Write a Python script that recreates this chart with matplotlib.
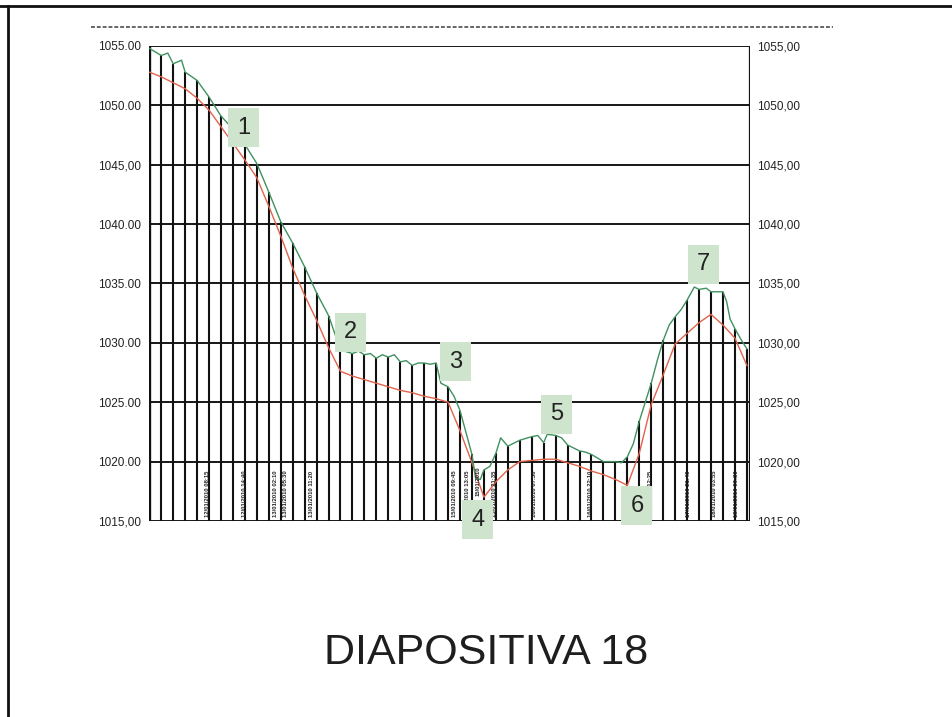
import matplotlib
matplotlib.use("Agg")
import matplotlib.pyplot as plt
from matplotlib.patches import Rectangle
from matplotlib.lines import Line2D

plt.rcParams['font.family'] = ['Liberation Sans', 'DejaVu Sans']

# tops of the vertical bars (one per sample)
bar_top = [1054.8, 1054.2, 1053.5, 1052.8, 1052.1, 1050.7, 1049.1, 1048.0, 1046.7, 1045.1,
           1042.7, 1040.2, 1038.4, 1036.4, 1034.2, 1032.3, 1029.3, 1029.1, 1029.0, 1028.7,
           1028.8, 1028.4, 1028.1, 1028.3, 1028.3, 1026.3, 1024.3, 1020.6, 1019.3, 1020.7,
           1021.3, 1021.8, 1022.1, 1021.6, 1022.2, 1021.4, 1020.9, 1020.6, 1020.0, 1020.0,
           1020.4, 1023.4, 1026.6, 1030.2, 1032.2, 1033.6, 1034.5, 1034.3, 1034.3, 1031.2,
           1029.5]

# detailed pressure trace (green)
green_x = [0, 0.5, 1, 1.55, 2, 2.7, 3, 4, 5, 6, 7, 8, 9, 10, 11, 12, 13, 14, 15, 16,
           17, 17.5, 18, 18.5, 19, 19.5, 20, 20.5, 21, 21.5, 22, 22.5, 23, 23.5, 24, 24.4,
           25, 25.5, 26, 27, 27.3, 27.7, 28, 28.5, 29, 29.4, 30, 31, 32, 32.5, 33, 33.3,
           34, 34.5, 35, 36, 36.5, 37, 37.5, 38, 39, 39.5, 40, 40.5, 41, 41.5, 42, 42.5,
           43, 43.5, 44, 44.5, 45, 45.6, 46, 46.6, 47, 48, 48.3, 48.6, 49, 49.5, 50]
green_y = [1054.8, 1054.5, 1054.2, 1054.4, 1053.5, 1053.8, 1052.8, 1052.1, 1050.7, 1049.1,
           1048.0, 1046.7, 1045.1, 1042.7, 1040.2, 1038.4, 1036.4, 1034.2, 1032.3, 1029.4,
           1029.1, 1029.3, 1029.0, 1029.1, 1028.7, 1029.0, 1028.8, 1029.0, 1028.4, 1028.5,
           1028.1, 1028.3, 1028.3, 1028.2, 1028.3, 1026.6, 1026.3, 1025.5, 1024.3, 1020.6,
           1018.6, 1018.5, 1019.3, 1019.6, 1020.7, 1022.0, 1021.3, 1021.8, 1022.1, 1022.2,
           1021.6, 1022.3, 1022.2, 1022.0, 1021.4, 1020.9, 1020.8, 1020.6, 1020.3, 1020.0,
           1020.0, 1019.9, 1020.4, 1021.5, 1023.4, 1025.0, 1026.6, 1028.5, 1030.2, 1031.5,
           1032.2, 1032.8, 1033.6, 1034.7, 1034.5, 1034.6, 1034.3, 1034.3, 1033.5, 1032.0,
           1031.2, 1030.3, 1029.5]

# smoothed trace (red)
red_y = [1052.8, 1052.4, 1051.9, 1051.4, 1050.6, 1049.6, 1048.2, 1046.8, 1045.4, 1043.9,
         1041.5, 1039.0, 1036.3, 1034.0, 1031.9, 1029.6, 1027.6, 1027.2, 1026.9, 1026.6,
         1026.3, 1026.0, 1025.8, 1025.5, 1025.3, 1025.0, 1022.6, 1019.9, 1017.0, 1018.3,
         1019.3, 1020.0, 1020.1, 1020.2, 1020.2, 1019.9, 1019.6, 1019.2, 1018.9, 1018.5,
         1018.0, 1020.7, 1024.8, 1027.3, 1029.9, 1030.8, 1031.7, 1032.4, 1031.5, 1030.4,
         1028.1]

# numbered markers
marks = ["1", "2", "3", "4", "5", "6", "7"]
mark_x = [7.9, 16.8, 25.6, 27.5, 34.1, 40.8, 46.4]
mark_y = [1048.1, 1030.9, 1028.4, 1015.1, 1024.0, 1016.3, 1036.6]

# small rotated date labels at the foot of the chart
date_x = [4.9, 8.0, 10.6, 11.4, 13.6, 25.5, 26.6, 27.5, 28.9, 32.2, 36.9, 41.9, 45.1, 47.3, 49.1]
date_y0 = [1015.3, 1015.3, 1015.3, 1015.3, 1015.3, 1015.3, 1015.3, 1017.1, 1015.3, 1015.3,
           1015.3, 1015.3, 1015.3, 1015.3, 1015.3]
date_txt = ["12/01/2010 08:15", "12/01/2010 14:40", "13/01/2010 02:10", "13/01/2010 05:30",
            "13/01/2010 11:20", "15/01/2010 09:45", "15/01/2010 13:05", "15/01/2010",
            "15/01/2010 21:35", "16/01/2010 07:50", "16/01/2010 22:10", "17/01/2010 12:25",
            "17/01/2010 21:40", "18/01/2010 03:55", "18/01/2010 09:30"]

yticks = [1015, 1020, 1025, 1030, 1035, 1040, 1045, 1050, 1055]
left_lab = ["1015,00", "1020.00", "1025.00", "1030.00", "1035.00", "1040.00", "1045,00", "1050.00", "1055.00"]
right_lab = ["1015,00", "1020,00", "1025,00", "1030,00", "1035,00", "1040,00", "1045,00", "1050,00", "1055,00"]

fig = plt.figure(figsize=(9.52, 7.17), dpi=100)
ax = fig.add_axes([0.1568, 0.2734, 0.6311, 0.6625])
ax.set_xlim(0, 50.27)
ax.set_ylim(1015, 1055)

for v in yticks:
    ax.axhline(v, color="#161616", lw=1.4, zorder=1)

ax.vlines(range(len(bar_top)), 1015, bar_top, color="#111111", lw=1.5, zorder=2)
ax.plot(range(len(red_y)), red_y, color="#e0644c", lw=1.0, zorder=3)
ax.plot(green_x, green_y, color="#3f9160", lw=1.0, zorder=4)

for s, x, y0 in zip(date_txt, date_x, date_y0):
    ax.text(x, y0, s, rotation=90, ha="center", va="bottom", fontsize=4.2,
            fontweight="bold", color="#222222", zorder=5)

for s, x, y in zip(marks, mark_x, mark_y):
    ax.add_patch(Rectangle((x - 1.3, y - 1.65), 2.6, 3.3, facecolor="#cfe4cc",
                           edgecolor="none", zorder=6, clip_on=False))
    ax.text(x, y, s, ha="center", va="center", fontsize=17, color="#222222", zorder=7)

for sp in ax.spines.values():
    sp.set_visible(False)
ax.axvline(0, color="#111111", lw=2.4, zorder=2)
ax.axvline(50.27, color="#111111", lw=1.6, zorder=2)

ax.set_yticks(yticks)
ax.set_yticklabels(left_lab, fontsize=8.5, color="#222222")
ax.tick_params(axis="y", length=0, pad=6)
ax.set_xticks([])
ax2 = ax.twinx()
ax2.set_ylim(1015, 1055)
ax2.set_yticks(yticks)
ax2.set_yticklabels(right_lab, fontsize=8.5, color="#222222")
ax2.tick_params(axis="y", length=0, pad=5)
for sp in ax2.spines.values():
    sp.set_visible(False)

# slide frame and decorative rule
fig.add_artist(Line2D([0, 1], [0.991, 0.991], color="#111111", lw=2.0))
fig.add_artist(Line2D([0.0084, 0.0084], [0, 0.991], color="#111111", lw=2.0))
fig.add_artist(Line2D([0.0956, 0.875], [0.9623, 0.9623], color="#666666", lw=1.4, ls=(0, (2, 1))))

fig.text(0.511, 0.089, "DIAPOSITIVA 18", ha="center", va="center", fontsize=31, color="#1e1e1e")

fig.savefig("out.png", dpi=100)
